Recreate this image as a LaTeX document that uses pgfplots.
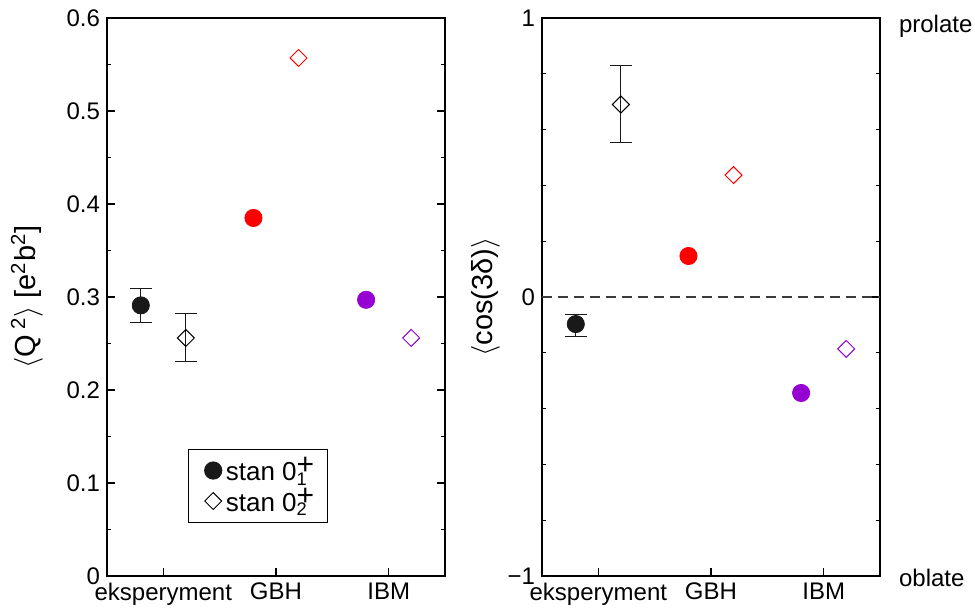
\documentclass[border=0pt]{standalone}
\usepackage{fontspec}
\setmainfont{Liberation Sans}
\usepackage{pgfplots}
\pgfplotsset{compat=1.18}
\definecolor{ptblack}{RGB}{25,25,25}
\definecolor{ptred}{RGB}{255,0,0}
\definecolor{ptviolet}{RGB}{150,0,210}
\pgfplotsset{
    panel/.style={
        scale only axis,
        width=169pt, height=279pt,
        xmin=0.5, xmax=3.5,
        xtick={1,2,3},
        xticklabels={eksperyment, GBH, IBM},
        xtick pos=lower,
        ytick pos=both,
        tick align=inside,
        major tick length=4pt,
        minor tick length=2pt,
        axis line style={line width=0.7pt},
        every tick/.style={line width=0.6pt, black},
        tick label style={font=\fontsize{12}{14}\selectfont},
        label style={font=\fontsize{14.5}{16}\selectfont},
        /pgf/number format/assume math mode=true,
        legend style={font=\fontsize{13}{15}\selectfont},
    },
    circ/.style={only marks, mark=*, mark size=4.3pt, mark options={draw=#1, fill=#1}},
    diam/.style={only marks, mark=square, mark size=3pt, mark options={draw=#1, fill=white, rotate=45, line width=0.5pt}},
    ebar/.style={forget plot, mark=none, line width=0.5pt, ptblack,
        error bars/.cd, y dir=both, y explicit,
        error mark options={rotate=90, mark size=5.5pt, line width=0.5pt}},
}
\begin{document}
\begin{tikzpicture}
\path[use as bounding box] (-53.5pt,-18pt) rectangle (434pt,288pt);
\begin{axis}[panel, at={(0,0)},
    ymin=0, ymax=0.6,
    ytick={0,0.1,0.2,0.3,0.4,0.5,0.6},
    yticklabels={0,0.1,0.2,0.3,0.4,0.5,0.6},
    minor y tick num=1,
    ylabel={$\langle$Q\,\textsuperscript{2}$\rangle$ [e\textsuperscript{2}b\textsuperscript{2}]},
    ylabel shift=5pt,
    legend style={at={(0.24,0.228)}, anchor=north west, draw=black, line width=0.5pt,
        inner xsep=8pt, inner ysep=2pt, row sep=-2pt},
    legend cell align=left,
]
\addplot[ebar] coordinates {(0.8,0.291) += (0,0.018) -= (0,0.018)};
\addplot[ebar] coordinates {(1.2,0.256) += (0,0.026) -= (0,0.025)};
\addplot[circ=ptblack] coordinates {(0.8,0.291)};
\addplot[diam=black] coordinates {(1.2,0.256)};
\addplot[circ=ptred, forget plot] coordinates {(1.8,0.385)};
\addplot[diam=ptred, forget plot] coordinates {(2.2,0.557)};
\addplot[circ=ptviolet, forget plot] coordinates {(2.8,0.297)};
\addplot[diam=ptviolet, forget plot] coordinates {(3.2,0.256)};
\legend{stan 0\rlap{\raisebox{0.45ex}{\fontsize{15}{15}\selectfont +}}\textsubscript{1}, stan 0\rlap{\raisebox{0.45ex}{\fontsize{15}{15}\selectfont +}}\textsubscript{2}}
\end{axis}
\begin{axis}[panel, at={(217.5pt,0)},
    ymin=-1, ymax=1,
    ytick={-1,0,1},
    yticklabels={−1,0,1},
    minor y tick num=4,
    ylabel={$\langle$cos(3δ)$\rangle$},
    ylabel shift=-3pt,
    clip=false,
]
\addplot[ptblack!85, line width=0.6pt, dash pattern=on 5pt off 3pt, forget plot] coordinates {(0.5,0) (3.5,0)};
\addplot[ebar] coordinates {(0.8,-0.097) += (0,0.036) -= (0,0.043)};
\addplot[ebar] coordinates {(1.2,0.69) += (0,0.138) -= (0,0.138)};
\addplot[circ=ptblack] coordinates {(0.8,-0.097)};
\addplot[diam=black] coordinates {(1.2,0.69)};
\addplot[circ=ptred] coordinates {(1.8,0.147)};
\addplot[diam=ptred] coordinates {(2.2,0.437)};
\addplot[circ=ptviolet] coordinates {(2.8,-0.344)};
\addplot[diam=ptviolet] coordinates {(3.2,-0.186)};
\node[anchor=west, font=\fontsize{12}{14}\selectfont] at ([xshift=6pt,yshift=-4pt]axis cs:3.5,1) {prolate};
\node[anchor=west, font=\fontsize{12}{14}\selectfont] at ([xshift=6pt,yshift=-1pt]axis cs:3.5,-1) {oblate};
\end{axis}
\end{tikzpicture}
\end{document}
